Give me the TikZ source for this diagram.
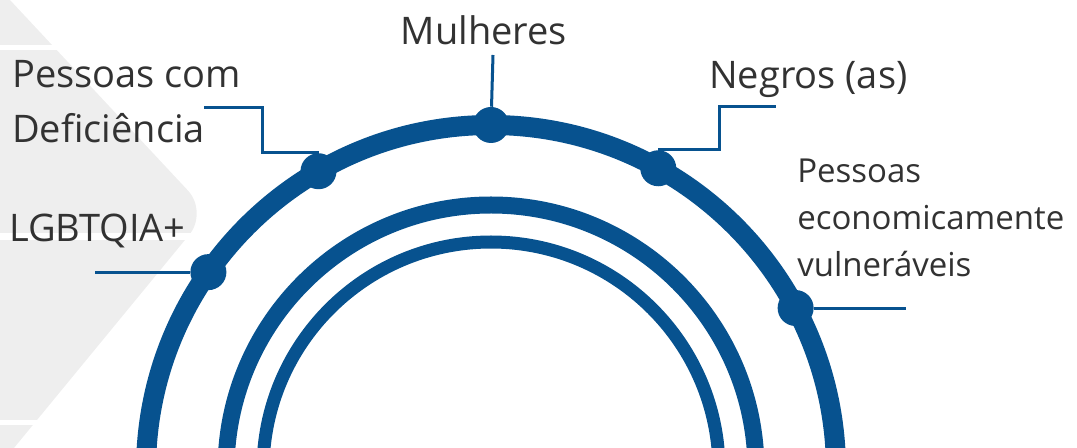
\documentclass[tikz,border=0pt]{standalone}
\usepackage{fontspec}
\setmainfont{Open Sans}
\usepackage{tikz}
\definecolor{ringblue}{RGB}{7,82,143}
\definecolor{labelgray}{RGB}{50,50,50}
\definecolor{bggray}{RGB}{238,238,238}

\begin{document}
\begin{tikzpicture}[x=0.75pt, y=0.75pt]

\tikzstyle{ring} = [draw=ringblue]
\tikzstyle{dot} = [circle, fill=ringblue, minimum size=27pt, inner sep=0pt]
\tikzstyle{lead} = [draw=ringblue, line width=2.25pt]
\tikzstyle{big} = [text=labelgray, inner sep=0pt, align=left, font=\fontsize{28.5}{41.25}\selectfont]
\tikzstyle{small} = [text=labelgray, inner sep=0pt, align=left, font=\fontsize{24.75}{35.25}\selectfont]

\useasboundingbox (0,0) rectangle (1077,-448);

\begin{scope}
\clip (0,0) rectangle (1077,-448);
\fill[bggray] (0,0) -- (10,0) [rounded corners=22pt] -- (208,-212) [sharp corners] -- (0,-465) -- cycle;
\fill[white] (0,-45) rectangle (230,-50);
\fill[white] (0,-233) rectangle (230,-240);
\fill[white] (0,-420) rectangle (230,-425);

\coordinate (o) at (491,-470);
\draw[ring, line width=15pt] (o) circle (345);
\draw[ring, line width=12.75pt] (o) circle (265);
\draw[ring, line width=9.75pt] (o) circle (228);
\end{scope}

\node[dot] (dm) at ([shift={(90:345)}]o) {};
\node[dot] (dd) at ([shift={(120:345)}]o) {};
\node[dot] (dn) at ([shift={(61:345)}]o) {};
\node[dot] (dl) at ([shift={(145:345)}]o) {};
\node[dot] (de) at ([shift={(28:345)}]o) {};

\node[big, anchor=base] (m) at (484,-45) {Mulheres};
\node[big, anchor=base west] (d) at (12,-143) {Pessoas com\\Deficiência};
\node[big, anchor=base west] (l) at (9,-242) {LGBTQIA+};
\node[big, anchor=base west] (n) at (709,-89) {Negros (as)};
\node[small, anchor=base west] (e) at (797,-277) {Pessoas\\economicamente\\vulneráveis};

\coordinate (me) at (493,-55);
\coordinate (de2) at (204,-108);
\coordinate (ne) at (776,-107);
\coordinate (le) at (95,-271);
\coordinate (ee) at (906,-307);

\draw[lead] (dm) -- (me);
\draw[lead] (dd.north) -- ++(-56,0) |- (de2);
\draw[lead] (dn.north) -- ++(61,0) |- (ne);
\draw[lead] (dl) -- (dl -| le);
\draw[lead] (de) -- (de -| ee);

\end{tikzpicture}
\end{document}
